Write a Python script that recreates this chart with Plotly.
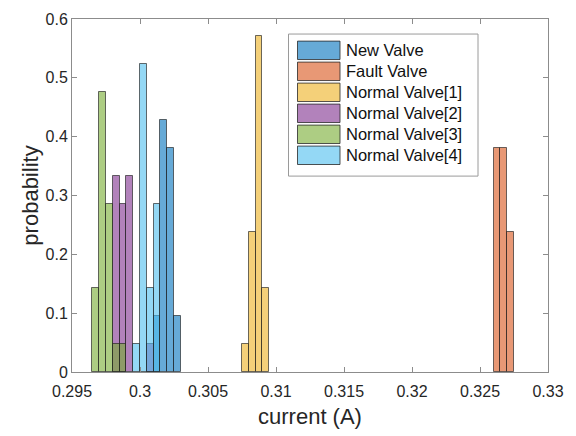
import plotly.graph_objects as go

# Histogram bins (bin width 0.0005 A); left edges and probabilities per valve
bin_width = 0.0005

new_edges = [0.3010, 0.3015, 0.3020, 0.3025]
new_prob = [0.095, 0.429, 0.381, 0.095]

fault_edges = [0.3260, 0.3265, 0.3270]
fault_prob = [0.381, 0.381, 0.238]

n1_edges = [0.3075, 0.3080, 0.3085, 0.3090]
n1_prob = [0.048, 0.238, 0.571, 0.143]

n2_edges = [0.2980, 0.2985, 0.2990, 0.3005]
n2_prob = [0.333, 0.286, 0.333, 0.048]

n3_edges = [0.2965, 0.2970, 0.2975, 0.2980, 0.2985]
n3_prob = [0.143, 0.476, 0.286, 0.048, 0.048]

n4_edges = [0.2995, 0.3000, 0.3005, 0.3010]
n4_prob = [0.048, 0.524, 0.143, 0.286]

series_names = ["New Valve", "Fault Valve", "Normal Valve[1]",
                "Normal Valve[2]", "Normal Valve[3]", "Normal Valve[4]"]
series_rgb = [(0, 114, 189), (217, 83, 25), (237, 177, 32),
              (126, 47, 142), (119, 172, 48), (77, 190, 238)]

x_ticks = [0.295, 0.300, 0.305, 0.310, 0.315, 0.320, 0.325, 0.330]
x_tick_text = ["0.295", "0.3", "0.305", "0.31", "0.315", "0.32", "0.325", "0.33"]
y_ticks = [0, 0.1, 0.2, 0.3, 0.4, 0.5, 0.6]
y_tick_text = ["0", "0.1", "0.2", "0.3", "0.4", "0.5", "0.6"]

FACE_ALPHA = 0.6
EDGE = "rgba(30,30,30,0.65)"
FONT = "Liberation Sans, Arial, sans-serif"


def fill(rgb):
    return "rgba({},{},{},{})".format(*rgb, FACE_ALPHA)


all_edges = [new_edges, fault_edges, n1_edges, n2_edges, n3_edges, n4_edges]
all_probs = [new_prob, fault_prob, n1_prob, n2_prob, n3_prob, n4_prob]

fig = go.Figure()
for name, rgb, edges, probs in zip(series_names, series_rgb, all_edges, all_probs):
    fig.add_trace(go.Bar(
        x=[e + bin_width / 2 for e in edges],
        y=probs,
        width=bin_width,
        name=name,
        marker=dict(color=fill(rgb), line=dict(color=EDGE, width=1)),
        showlegend=False,
    ))

# Plot area geometry in pixels (for placing the legend box)
W, H = 576, 436
ML, MR, MT, MB = 72, 28, 11, 61
PW, PH = W - ML - MR, H - MT - MB


def px(x):
    return (x - ML) / PW


def py(y):
    return (H - MB - y) / PH


shapes = [dict(type="rect", xref="paper", yref="paper",
               x0=px(288.5), x1=px(478), y0=py(173), y1=py(26.5),
               line=dict(color="#9a9a9a", width=1), fillcolor="white", layer="above")]
annotations = []
row0, row_step = 43.3, 21.65
for i, (name, rgb) in enumerate(zip(series_names, series_rgb)):
    yc = row0 + i * row_step
    shapes.append(dict(type="rect", xref="paper", yref="paper",
                       x0=px(297.5), x1=px(340), y0=py(yc + 9.5), y1=py(yc - 9.5),
                       line=dict(color="rgba(40,40,40,0.8)", width=1),
                       fillcolor=fill(rgb), layer="above"))
    annotations.append(dict(xref="paper", yref="paper", x=px(344), y=py(yc),
                            text=name, showarrow=False, xanchor="left", yanchor="middle",
                            font=dict(family=FONT, size=16.5, color="#111111")))

axis_common = dict(
    showgrid=False, zeroline=False, showline=True, linecolor="#8c8c8c", linewidth=1,
    mirror="allticks", ticks="inside", ticklen=5, tickcolor="#8c8c8c", tickwidth=1,
    tickfont=dict(family=FONT, size=16, color="#262626"),
)

fig.update_layout(
    width=W, height=H,
    margin=dict(l=ML, r=MR, t=MT, b=MB, pad=0),
    paper_bgcolor="white", plot_bgcolor="white",
    barmode="overlay", bargap=0,
    xaxis=dict(range=[0.295, 0.330], tickvals=x_ticks, ticktext=x_tick_text,
               ticklabelstandoff=5,
               title=dict(text="current (A)", font=dict(family=FONT, size=22, color="#262626"),
                          standoff=9),
               **axis_common),
    yaxis=dict(range=[0, 0.6], tickvals=y_ticks, ticktext=y_tick_text,
               ticklabelstandoff=0,
               title=dict(text="probability", font=dict(family=FONT, size=22, color="#262626"),
                          standoff=0),
               **axis_common),
    shapes=shapes,
    annotations=annotations,
)

fig.write_html("out.html")
